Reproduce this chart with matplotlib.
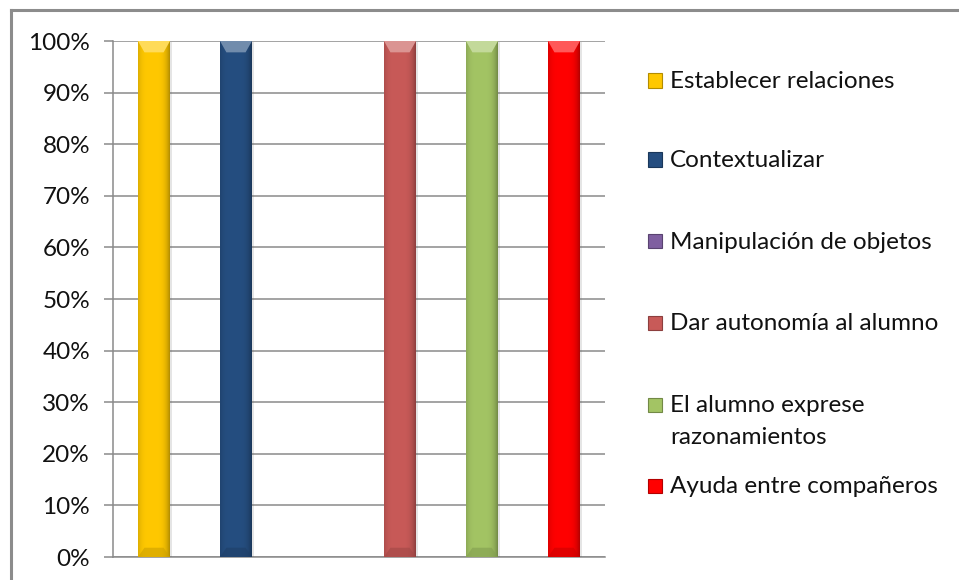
import matplotlib
matplotlib.use("Agg")
import matplotlib.pyplot as plt
import numpy as np
import matplotlib.patheffects as pe
from matplotlib.colors import to_rgb
from matplotlib.ticker import FuncFormatter, MultipleLocator

plt.rcParams['font.family'] = ['Lato', 'DejaVu Sans']

# data
labels = ['Establecer relaciones', 'Contextualizar', 'Manipulación de objetos',
          'Dar autonomía al alumno', 'El alumno exprese\nrazonamientos',
          'Ayuda entre compañeros']
values = [100, 100, 0, 100, 100, 100]
colors = ['#FFC800', '#254E80', '#7F5FA0', '#C85A58', '#A3C464', '#FF0000']

W, H = 959, 580
fig = plt.figure(figsize=(W / 100, H / 100), dpi=100)

# chart border (top and left visible)
fig.add_artist(plt.Line2D([11 / W, 11 / W], [0, 1 - 10 / H], color='#8c8c8c', lw=2.2))
fig.add_artist(plt.Line2D([11 / W, 1], [1 - 10 / H, 1 - 10 / H], color='#8c8c8c', lw=2.2))

ax = fig.add_axes([113 / W, 1 - 557 / H, (605 - 113) / W, (557 - 41) / H])
x = np.arange(len(values))
bw = 0.39

ax.yaxis.set_major_locator(MultipleLocator(10))
ax.yaxis.set_major_formatter(FuncFormatter(lambda v, p: f'{int(v)}%'))
ax.grid(axis='y', color='#8a8a8a', lw=1.1, zorder=0)
ax.set_axisbelow(True)
ax.tick_params(axis='y', length=6.5, width=1.1, color='#8a8a8a', labelsize=17.5,
               labelcolor='#111111', pad=10)
ax.set_xticks([])
for s in ['top', 'right']:
    ax.spines[s].set_visible(False)
for s in ['left', 'bottom']:
    ax.spines[s].set_color('#8a8a8a')
    ax.spines[s].set_linewidth(1.1)

bars = ax.bar(x, values, width=bw, color=colors, zorder=3, edgecolor='none',
              path_effects=[pe.SimplePatchShadow(offset=(1.5, -1), alpha=0.15, shadow_rgbFace='#555555'),
                            pe.Normal()])

# cylinder-like shading across each bar
t = np.linspace(0, 1, 64)
shade = 1 - 0.30 * (np.abs(t - 0.45) / 0.55) ** 4
for b, c in zip(bars, colors):
    if b.get_height() <= 0:
        continue
    rgb = np.array(to_rgb(c))
    img = np.clip(shade[None, :, None] * rgb[None, None, :], 0, 1)
    x0 = b.get_x()
    im = ax.imshow(img, extent=[x0, x0 + bw, 0, b.get_height()], aspect='auto',
                   zorder=4, interpolation='bilinear')
    im.set_clip_path(b)
    # lighter bevel at top, darker at bottom
    light = np.clip(rgb + (1 - rgb) * 0.35, 0, 1)
    h = b.get_height()
    ax.fill([x0, x0 + bw, x0 + bw * 0.8, x0 + bw * 0.2],
            [h, h, h - 2.2, h - 2.2], color=light, zorder=5, lw=0)
    ax.fill([x0, x0 + bw, x0 + bw * 0.8, x0 + bw * 0.2],
            [0, 0, 1.8, 1.8], color=rgb * 0.8, zorder=5, lw=0, alpha=0.6)

ax.set_ylim(0, 100)
ax.set_xlim(-0.5, len(values) - 0.5)

# legend drawn manually
baselines = [88, 167, 249, 330, 412, 493]
for lab, c, yy in zip(labels, colors, baselines):
    sq = 14
    fig.add_artist(plt.Rectangle((648 / W, 1 - (yy - 0.5) / H), sq / W, sq / H,
                                 facecolor=c, edgecolor=tuple(np.array(to_rgb(c)) * 0.7),
                                 lw=0.8, transform=fig.transFigure))
    for i, line in enumerate(lab.split('\n')):
        fig.text(670 / W, 1 - (yy + 32 * i) / H, line, fontsize=17.5, color='#111111',
                 va='baseline', ha='left')

fig.savefig('out.png', dpi=100)
